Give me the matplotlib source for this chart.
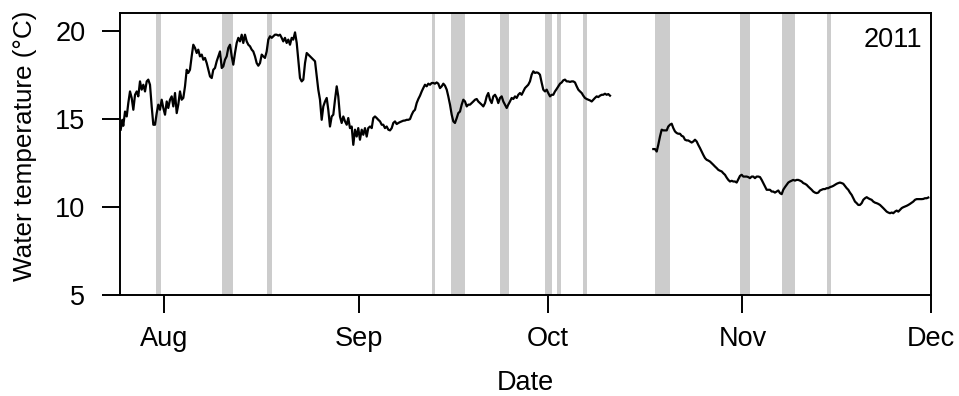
import matplotlib
matplotlib.use("Agg")
import matplotlib.pyplot as plt
import pandas as pd

plt.rcParams["font.family"] = ["Liberation Sans", "DejaVu Sans"]

# Reference start of the record; times are in days after this moment
START = pd.Timestamp("2011-07-25")

# First logger deployment (late July to mid October)
days_a = [
    0.11, 0.37, 0.52, 0.80, 1.07, 1.32, 1.59, 1.86, 2.12, 2.39,
    2.66, 2.91, 3.18, 3.45, 3.71, 3.98, 4.25, 4.50, 4.77, 5.04,
    5.30, 5.57, 5.84, 6.09, 6.36, 6.63, 6.89, 7.16, 7.43, 7.68,
    7.95, 8.22, 8.48, 8.75, 9.02, 9.27, 9.54, 9.81, 10.07, 10.34,
    10.61, 10.86, 11.13, 11.40, 11.66, 11.93, 12.20, 12.45, 12.72, 13.00,
    13.25, 13.52, 13.79, 14.05, 14.32, 14.59, 14.84, 15.11, 15.38, 15.64,
    15.91, 16.18, 16.43, 16.70, 16.97, 17.23, 17.50, 17.77, 18.02, 18.29,
    18.56, 18.82, 19.09, 19.36, 19.61,
    19.88, 20.15, 20.41, 20.68, 20.95, 21.20, 21.47, 21.74, 22.00, 22.27,
    22.54, 22.79, 23.06, 23.33, 23.59, 23.86, 24.13, 24.38, 24.65, 24.92,
    25.18, 25.45, 25.72, 25.97, 26.24, 26.51, 26.77, 27.04, 27.31, 27.56,
    27.84, 28.11, 28.36, 28.63, 28.90, 29.16, 29.43, 29.70, 29.95, 30.22,
    30.49, 30.75, 31.02, 31.29, 31.54, 31.81, 32.08, 32.34, 32.61, 32.88,
    33.13, 33.40, 33.67, 33.93, 34.20, 34.47, 34.72, 34.99, 35.26, 35.52,
    35.79, 36.06, 36.31, 36.58, 36.85, 37.11, 37.38, 37.65, 37.90, 38.17,
    38.45, 38.70, 38.97, 39.24, 39.49, 39.77,
    40.04, 40.29, 40.56, 40.83, 41.09, 41.36, 41.63, 41.88, 42.15, 42.42,
    42.68, 42.95, 43.22, 43.47, 43.74, 44.01, 44.27, 44.54, 44.81, 45.06,
    45.33, 45.60, 45.86, 46.13, 46.40, 46.65, 46.92, 47.19, 47.45, 47.72,
    47.99, 48.24, 48.51, 48.78, 49.04, 49.31, 49.58, 49.83, 50.10, 50.37,
    50.63, 50.90, 51.17, 51.43, 51.69, 51.97, 52.22, 52.49, 52.76, 53.02,
    53.28, 53.56, 53.81, 54.08, 54.35, 54.61, 54.88, 55.15, 55.40, 55.67,
    55.94, 56.20, 56.47, 56.74, 56.99, 57.26, 57.53, 57.79, 58.06, 58.33,
    58.58, 58.85, 59.12, 59.38,
    59.65, 59.92, 60.17, 60.44, 60.71, 60.97, 61.24, 61.51, 61.76, 62.03,
    62.30, 62.56, 62.83, 63.10, 63.35, 63.62, 63.89, 64.15, 64.42, 64.69,
    64.94, 65.21, 65.48, 65.74, 66.01, 66.28, 66.53, 66.80, 67.08, 67.33,
    67.60, 67.87, 68.12, 68.40, 68.67, 68.92, 69.19, 69.46, 69.72, 69.99,
    70.26, 70.51, 70.78, 71.05, 71.31, 71.58, 71.85, 72.10, 72.37, 72.64,
    72.90, 73.17, 73.44, 73.69, 73.96, 74.23, 74.49, 74.76, 75.03, 75.28,
    75.55, 75.82, 76.08, 76.35, 76.62, 76.87, 77.14, 77.41, 77.67, 77.94,
]
temp_a = [
    14.38, 14.94, 14.60, 15.41, 15.13, 15.89, 16.55, 16.18, 15.51, 16.36,
    16.55, 16.27, 17.12, 16.65, 16.93, 16.55, 17.12, 17.22, 16.93, 15.70,
    14.66, 14.66, 15.32, 15.80, 15.51, 16.08, 15.61, 15.23, 15.98, 15.61,
    16.08, 16.27, 15.70, 16.46, 15.32, 15.80, 16.55, 16.08, 16.18, 16.84,
    17.78, 17.60, 17.78, 18.54, 19.20, 19.02, 18.73, 18.92, 18.54, 18.64,
    18.35, 18.45, 18.16, 17.78, 17.40, 17.31, 17.78, 17.88, 18.26, 18.54,
    18.82, 17.88, 17.97, 18.35, 18.54, 19.02, 19.20, 18.54, 18.07, 18.73,
    19.30, 19.59, 19.39, 19.77, 19.30,
    19.77, 19.39, 19.20, 19.11, 18.92, 18.82, 18.54, 18.16, 18.01, 18.16,
    18.64, 18.54, 18.45, 18.82, 19.49, 19.68, 19.59, 19.68, 19.77, 19.77,
    19.72, 19.77, 19.59, 19.39, 19.59, 19.30, 19.49, 19.20, 19.59, 19.49,
    19.90, 19.30, 18.35, 17.31, 17.12, 17.22, 18.16, 18.73, 18.64, 18.54,
    18.45, 18.35, 18.26, 17.40, 16.65, 16.08, 14.94, 15.70, 15.98, 16.18,
    15.51, 14.56, 15.13, 15.23, 16.08, 16.84, 16.27, 15.13, 14.76, 15.13,
    14.85, 14.66, 15.04, 14.47, 14.56, 13.52, 14.38, 13.99, 14.47, 13.81,
    14.38, 14.09, 14.47, 13.99, 14.47, 14.56,
    14.47, 15.04, 15.13, 15.04, 14.94, 14.85, 14.66, 14.66, 14.47, 14.56,
    14.38, 14.34, 14.47, 14.76, 14.85, 14.70, 14.76, 14.81, 14.85, 14.89,
    14.90, 14.94, 14.94, 14.98, 15.23, 15.41, 15.51, 15.89, 16.12, 16.31,
    16.55, 16.74, 16.93, 16.84, 16.99, 16.93, 17.03, 17.03, 16.99, 17.06,
    16.99, 16.74, 16.84, 16.99, 16.88, 16.65, 16.27, 15.80, 15.23, 14.85,
    14.76, 15.04, 15.32, 15.41, 15.80, 16.08, 15.98, 15.70, 15.80, 15.80,
    15.89, 15.98, 16.08, 16.12, 15.98, 15.89, 15.80, 15.70, 15.89, 16.27,
    16.46, 16.08, 15.89, 16.27,
    16.36, 16.18, 15.89, 16.18, 16.27, 15.98, 15.80, 15.61, 15.80, 15.98,
    16.18, 16.12, 16.27, 16.18, 16.36, 16.46, 16.36, 16.55, 16.74, 16.84,
    16.93, 17.12, 17.50, 17.69, 17.60, 17.63, 17.60, 17.50, 17.03, 16.65,
    16.55, 16.65, 16.46, 16.27, 16.36, 16.36, 16.55, 16.69, 16.84, 16.99,
    17.06, 17.18, 17.22, 17.12, 17.12, 17.09, 17.12, 17.12, 17.06, 16.84,
    16.65, 16.55, 16.46, 16.31, 16.18, 16.12, 16.08, 16.04, 15.98, 16.08,
    16.18, 16.27, 16.23, 16.31, 16.36, 16.36, 16.42, 16.36, 16.40, 16.31,
]

# Second logger deployment (mid October to end of November)
days_b = [
    84.83, 85.10, 85.37, 85.62, 85.89, 86.16, 86.42, 86.69, 86.96, 87.21,
    87.48, 87.75, 88.01, 88.28, 88.55, 88.80, 89.07, 89.34, 89.60, 89.87,
    90.14, 90.39, 90.66, 90.93, 91.19, 91.46, 91.73, 91.98, 92.25, 92.52,
    92.78, 93.05, 93.32, 93.57, 93.85, 94.12, 94.37, 94.64, 94.91, 95.17,
    95.44, 95.71, 95.96, 96.23, 96.50, 96.76, 97.03, 97.30, 97.55, 97.82,
    98.09, 98.35, 98.62, 98.89, 99.14, 99.41, 99.68, 99.94, 100.21, 100.48,
    100.73, 101.00, 101.27, 101.53, 101.80, 102.07, 102.32, 102.59, 102.86, 103.12,
    103.39, 103.66, 103.91, 104.18, 104.45, 104.71, 104.98, 105.25, 105.50, 105.77,
    106.04, 106.30,
    106.57, 106.84, 107.09, 107.36, 107.63, 107.89, 108.16, 108.43, 108.68, 108.95,
    109.22, 109.48, 109.75, 110.02, 110.27, 110.54, 110.81, 111.07, 111.34, 111.61,
    111.86, 112.13, 112.40, 112.66, 112.93, 113.20, 113.45, 113.72, 113.99, 114.25,
    114.52, 114.79, 115.05, 115.31, 115.59, 115.84, 116.11, 116.38, 116.64, 116.91,
    117.18, 117.43, 117.70, 117.97, 118.23, 118.50, 118.77, 119.02, 119.29, 119.56,
    119.82, 120.09, 120.36, 120.61, 120.89, 121.16, 121.41, 121.68, 121.95, 122.20,
    122.48, 122.75, 123.00, 123.27, 123.54, 123.80, 124.07, 124.34, 124.59, 124.86,
    125.13, 125.39, 125.66, 125.93, 126.18, 126.45, 126.72, 126.98, 127.25, 127.52,
    127.77, 128.04, 128.31, 128.57,
]
temp_b = [
    13.28, 13.28, 13.14, 13.52, 13.99, 14.38, 14.34, 14.34, 14.34, 14.56,
    14.66, 14.72, 14.47, 14.28, 14.19, 14.15, 14.15, 14.03, 13.99, 13.81,
    13.77, 13.77, 13.71, 13.65, 13.71, 13.81, 13.71, 13.52, 13.34, 13.14,
    12.95, 12.77, 12.67, 12.63, 12.57, 12.48, 12.39, 12.29, 12.20, 12.10,
    12.05, 12.01, 11.91, 11.82, 11.66, 11.53, 11.44, 11.48, 11.44, 11.44,
    11.38, 11.57, 11.76, 11.82, 11.72, 11.72, 11.72, 11.69, 11.63, 11.72,
    11.72, 11.63, 11.72, 11.72, 11.69, 11.53, 11.35, 11.15, 10.97, 10.97,
    10.97, 10.87, 10.87, 10.81, 10.87, 10.93, 10.78, 10.72, 10.97, 11.12,
    11.25, 11.38,
    11.44, 11.49, 11.53, 11.49, 11.53, 11.53, 11.49, 11.44, 11.35, 11.31,
    11.25, 11.15, 11.06, 10.97, 10.87, 10.81, 10.78, 10.81, 10.93, 10.97,
    11.01, 11.01, 11.06, 11.06, 11.12, 11.15, 11.19, 11.25, 11.31, 11.35,
    11.38, 11.35, 11.31, 11.19, 11.06, 10.97, 10.81, 10.68, 10.49, 10.30,
    10.21, 10.11, 10.11, 10.21, 10.40, 10.49, 10.55, 10.49, 10.44, 10.40,
    10.30, 10.24, 10.21, 10.17, 10.11, 10.02, 9.93, 9.83, 9.73, 9.68,
    9.64, 9.68, 9.64, 9.73, 9.79, 9.73, 9.83, 9.93, 9.98, 10.02,
    10.06, 10.11, 10.17, 10.24, 10.30, 10.40, 10.44, 10.44, 10.44, 10.44,
    10.45, 10.49, 10.49, 10.53,
]

# Shaded event periods (start / end, days after START)
event_start = [5.73, 16.22, 23.38, 49.63, 52.65, 60.44, 67.60, 69.51, 73.65,
               85.10, 98.62, 105.30, 112.46]
event_end = [6.52, 17.97, 24.18, 50.10, 54.88, 61.88, 68.71, 70.15, 74.28,
             87.48, 100.21, 107.36, 113.10]

month_ticks = ["2011-08-01", "2011-09-01", "2011-10-01", "2011-11-01", "2011-12-01"]
month_labels = ["Aug", "Sep", "Oct", "Nov", "Dec"]
y_ticks = [5, 10, 15, 20]
year_label = "2011"

FS = 19.5


def to_time(days):
    return START + pd.to_timedelta(pd.Series(days, dtype=float), unit="D")


fig = plt.figure(figsize=(9.59, 3.96), dpi=100)
ax = fig.add_axes([120 / 959, 1 - 295 / 396, 811 / 959, 282 / 396])

for s, e in zip(event_start, event_end):
    ax.axvspan(to_time([s])[0], to_time([e])[0], color="#cccccc", lw=0, zorder=1)

ax.plot(to_time(days_a), temp_a, color="black", lw=1.6, zorder=3)
ax.plot(to_time(days_b), temp_b, color="black", lw=1.6, zorder=3)

ax.set_xlim(pd.Timestamp("2011-07-25"), pd.Timestamp("2011-12-01"))
ax.set_ylim(5, 21)

ax.set_xticks([pd.Timestamp(t) for t in month_ticks])
ax.set_xticklabels(month_labels)
ax.set_yticks(y_ticks)
ax.set_yticklabels([str(v) for v in y_ticks])

ax.tick_params(axis="both", direction="out", length=13, width=1.4,
               labelsize=FS, colors="black")
ax.tick_params(axis="x", pad=9.5)
ax.tick_params(axis="y", pad=12)
for sp in ax.spines.values():
    sp.set_linewidth(1.4)
    sp.set_color("black")

ax.text(0.9889, 0.8794, year_label, transform=ax.transAxes, ha="right",
        va="baseline", fontsize=FS)

fig.text(25 / 959, 1 - 146 / 396, "Water temperature (\u00b0C)", rotation=90,
         ha="center", va="center", fontsize=18.8)
fig.text(525.5 / 959, 1 - 383 / 396, "Date", ha="center", va="center",
         fontsize=FS)

fig.savefig("out.png", dpi=100)
